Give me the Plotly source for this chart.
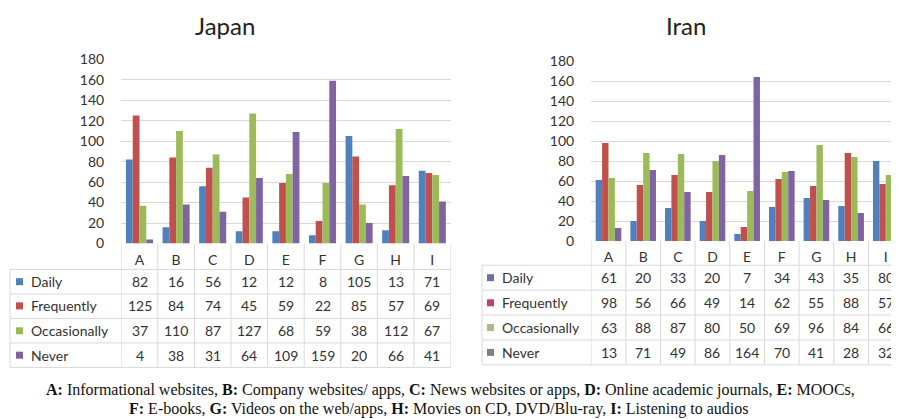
import plotly.graph_objs as go

# screen size; the page body keeps an 8px margin, so the figure is drawn 8px smaller
SW, SH = 899, 419
OFF = 8
W, H = SW - OFF, SH - OFF

categories = ['A', 'B', 'C', 'D', 'E', 'F', 'G', 'H', 'I']
series_names = ['Daily', 'Frequently', 'Occasionally', 'Never']
bar_colors = ['#4F81BD', '#C0504D', '#9BBB59', '#8064A2']

japan_daily = [82, 16, 56, 12, 12, 8, 105, 13, 71]
japan_frequently = [125, 84, 74, 45, 59, 22, 85, 57, 69]
japan_occasionally = [37, 110, 87, 127, 68, 59, 38, 112, 67]
japan_never = [4, 38, 31, 64, 109, 159, 20, 66, 41]

iran_daily = [61, 20, 33, 20, 7, 34, 43, 35, 80]
iran_frequently = [98, 56, 66, 49, 14, 62, 55, 88, 57]
iran_occasionally = [63, 88, 87, 80, 50, 69, 96, 84, 66]
iran_never = [13, 71, 49, 86, 164, 70, 41, 28, 32]

y_ticks = [0, 20, 40, 60, 80, 100, 120, 140, 160, 180]

caption_1 = ('<b>A:</b> Informational websites, <b>B:</b> Company websites/ apps, '
             '<b>C:</b> News websites or apps, <b>D:</b> Online academic journals, '
             '<b>E:</b> MOOCs,')
caption_2 = ('<b>F:</b> E-books, <b>G:</b> Videos on the web/apps, '
             '<b>H:</b> Movies on CD, DVD/Blu-ray, <b>I:</b> Listening to audios')

FONT = 'Lato'
TXT = '#333333'
GRID = '#d9d9d9'


def px(x):
    return (x - OFF) / W


def py(y):
    return 1 - (y - OFF) / H


fig = go.Figure()
shapes = []
annotations = []


def label(text, x, y, xref='paper', size=14, color=TXT, family=FONT, xanchor='center'):
    annotations.append(dict(text=text, x=x, y=y, xref=xref, yref='paper',
                            xanchor=xanchor, yanchor='middle', showarrow=False,
                            font=dict(family=family, size=size, color=color)))


def panel(n, title, series, marker_colors, p):
    xa = 'x' if n == 1 else 'x%d' % n
    ya = 'y' if n == 1 else 'y%d' % n
    for name, vals, col in zip(series_names, series, bar_colors):
        fig.add_trace(go.Bar(x=categories, y=vals, name=name, marker_color=col,
                             marker_line_width=0, xaxis=xa, yaxis=ya,
                             showlegend=False))
    pitch = p['pitch']
    left = p['x0'] - pitch / 2
    right = min(SW, left + pitch * len(categories))
    rng_hi = -0.5 + (right - left) / pitch
    fig.layout['xaxis' if n == 1 else 'xaxis%d' % n] = dict(
        domain=[px(left), px(right)], anchor=ya, range=[-0.5, rng_hi],
        showgrid=False, zeroline=False, showline=False, ticks='', automargin=False,
        tickfont=dict(family=FONT, size=14, color=TXT), ticklabelstandoff=p['xstand'])
    fig.layout['yaxis' if n == 1 else 'yaxis%d' % n] = dict(
        domain=[py(p['y0']), py(p['y180'])], anchor=xa, range=[0, 180],
        tickvals=y_ticks, showgrid=True, gridcolor=GRID, zeroline=False,
        showline=False, ticks='', ticklabelstandoff=16, automargin=False,
        tickfont=dict(family=FONT, size=14, color=TXT))

    label(title, px(p['title_x']), py(26), size=24, color='#222222')

    # data table under the bars
    rows = p['rows']
    half = (rows[-1] - rows[0]) / (len(rows) - 1) / 2
    top = rows[0] - half
    bottom = rows[-1] + half
    for i in range(len(categories) + 1):
        shapes.append(dict(type='line', xref=xa, yref='paper', x0=i - 0.5, x1=i - 0.5,
                           y0=py(p['y0']), y1=py(bottom), line=dict(color=GRID, width=1)))
    shapes.append(dict(type='line', xref='paper', yref='paper', x0=px(p['tl']), x1=px(p['tl']),
                       y0=py(top), y1=py(bottom), line=dict(color=GRID, width=1)))
    for k in range(len(rows) + 1):
        yy = top + k * 2 * half
        shapes.append(dict(type='line', xref='paper', yref='paper', x0=px(p['tl']), x1=px(right),
                           y0=py(yy), y1=py(yy), line=dict(color=GRID, width=1)))
    for r, (name, vals) in enumerate(zip(series_names, series)):
        yy = rows[r]
        shapes.append(dict(type='rect', xref='paper', yref='paper', x0=px(p['mk']),
                           x1=px(p['mk'] + 7), y0=py(yy + 3.5), y1=py(yy - 3.5),
                           fillcolor=marker_colors[r], line=dict(width=0)))
        label(name, px(p['mk'] + 13), py(yy), xanchor='left')
        for c, v in zip(categories, vals):
            label(str(v), c, py(yy), xref=xa)


panel(1, 'Japan', [japan_daily, japan_frequently, japan_occasionally, japan_never],
      bar_colors,
      dict(x0=139.5, pitch=36.6, y0=243.5, y180=59.3, title_x=225, xstand=6,
           rows=[281.7, 305.9, 330.8, 355.2], tl=10, mk=16))
panel(2, 'Iran', [iran_daily, iran_frequently, iran_occasionally, iran_never],
      ['#6A70A0', '#C2406A', '#A9B98A', '#808080'],
      dict(x0=608.5, pitch=34.66, y0=241, y180=61, title_x=686, xstand=6,
           rows=[277.7, 302.8, 327.6, 352.4], tl=482, mk=487))

label(caption_1, px(450), py(390), size=16, color='#111111', family='Liberation Serif')
label(caption_2, px(438), py(409), size=16, color='#111111', family='Liberation Serif')

fig.update_layout(
    width=W, height=H,
    barmode='group', bargap=0.26, bargroupgap=0,
    plot_bgcolor='white', paper_bgcolor='white',
    margin=dict(l=0, r=0, t=0, b=0, autoexpand=False),
    shapes=shapes, annotations=annotations,
)

fig.write_html('out.html')
